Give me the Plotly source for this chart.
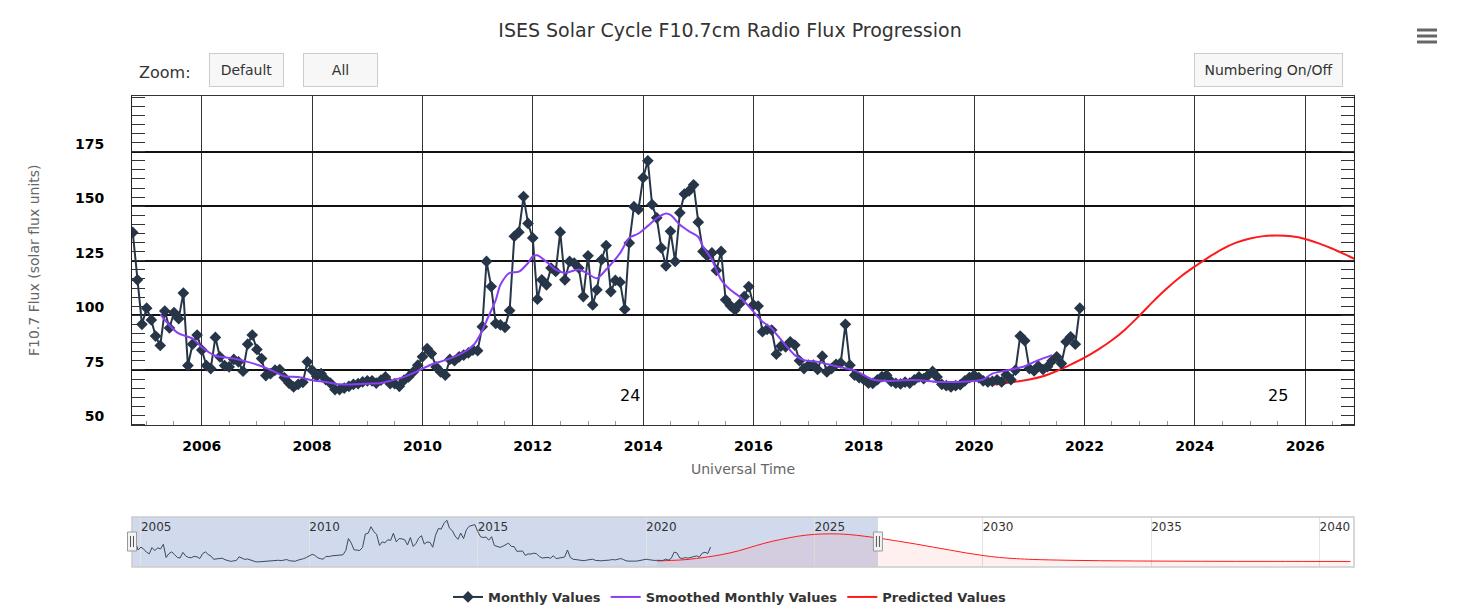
import plotly.graph_objects as go
import pandas as pd

# ---------------- data ----------------
title_text = "ISES Solar Cycle F10.7cm Radio Flux Progression"

monthly_start = "2004-10-01"
monthly_values = [
    138.0, 116.3, 95.9,
    103.3, 97.9, 90.5, 86.2, 102.0, 94.2, 101.3, 98.5, 110.2, 77.0, 86.8, 91.0,
    84.1, 77.0, 75.6, 89.9, 81.0, 77.0, 76.4, 79.8, 78.7, 74.4, 86.8, 91.0,
    84.4, 80.2, 72.4, 73.3, 74.9, 75.2, 71.5, 69.0, 67.2, 68.4, 69.3, 78.7,
    74.9, 72.1, 73.3, 70.6, 69.0, 66.0, 66.0, 66.7, 67.5, 68.4, 68.7, 69.5,
    70.0, 70.0, 69.0, 70.3, 71.8, 68.7, 68.7, 67.5, 70.3, 71.8, 74.1, 77.2,
    81.0, 84.8, 82.5, 76.4, 74.1, 72.6, 79.8, 79.2, 81.0, 81.8, 82.8, 84.1,
    83.8, 94.8, 124.7, 113.2, 96.3, 95.6, 94.5, 102.2, 136.2, 138.1, 154.4, 142.1,
    135.5, 107.4, 116.3, 114.0, 121.7, 120.1, 138.1, 116.3, 124.7, 124.0, 121.7, 108.6,
    127.3, 104.8, 111.7, 125.5, 132.0, 110.9, 116.0, 115.2, 102.8, 133.2, 149.8, 148.5,
    163.1, 170.8, 150.8, 144.7, 130.9, 122.7, 138.5, 124.7, 147.0, 155.6, 157.0, 159.8,
    142.7, 129.3, 127.3, 128.6, 120.6, 129.3, 107.1, 104.5, 102.5, 105.2, 108.6, 113.2,
    104.8, 104.3, 92.5, 93.6, 93.3, 82.2, 85.9, 85.6, 87.9, 86.4, 79.2, 75.6,
    77.2, 77.2, 75.2, 81.3, 74.1, 75.6, 77.6, 78.2, 95.9, 77.2, 72.6, 71.5,
    70.6, 68.9, 68.8, 70.5, 71.9, 72.6, 69.7, 68.9, 68.6, 69.4, 69.0, 70.4,
    71.8, 71.0, 72.5, 74.3, 71.8, 68.4, 67.8, 67.2, 67.8, 68.2, 70.0, 71.5,
    72.6, 71.5, 70.0, 69.5, 69.8, 70.5, 69.5, 72.8, 70.5, 74.9, 90.5, 88.4,
    75.6, 74.6, 76.7, 75.2, 76.5, 79.2, 81.0, 77.9, 87.9, 90.2, 86.8, 103.3,
]

smoothed_dates = [
    "2005-04-01", "2005-06-01", "2005-08-01", "2005-11-01", "2006-01-01", "2006-04-01",
    "2006-06-01", "2006-08-01", "2006-11-01", "2007-02-01", "2007-05-01", "2007-07-01",
    "2007-10-01", "2008-01-01", "2008-04-01", "2008-07-01", "2008-10-01", "2009-01-01",
    "2009-04-01", "2009-06-01", "2009-09-01", "2009-12-01", "2010-03-01", "2010-06-01",
    "2010-09-01", "2010-12-01", "2011-02-01", "2011-03-01", "2011-05-01", "2011-06-01",
    "2011-08-01", "2011-10-01", "2011-12-01", "2012-01-01", "2012-02-01", "2012-04-01",
    "2012-06-01", "2012-08-01", "2012-11-01", "2013-01-01", "2013-03-01", "2013-05-01",
    "2013-08-01", "2013-10-01", "2013-12-01", "2014-02-01", "2014-04-01", "2014-06-01",
    "2014-07-01", "2014-09-01", "2014-11-01", "2015-01-01", "2015-02-01", "2015-04-01",
    "2015-06-01", "2015-08-01", "2015-10-01", "2016-01-01", "2016-03-01", "2016-05-01",
    "2016-06-01", "2016-08-01", "2016-10-01", "2016-12-01", "2017-03-01", "2017-06-01",
    "2017-08-01", "2017-11-01", "2018-01-01", "2018-03-01", "2018-06-01", "2018-10-01",
    "2019-01-01", "2019-05-01", "2019-09-01", "2020-01-01", "2020-03-01", "2020-05-01",
    "2020-09-01", "2020-12-01", "2021-03-01", "2021-06-01",
]
smoothed_values = [
    100.6, 95.5, 91.7, 89.4, 85.4, 81.5,
    80.8, 80.2, 78.7, 76.7, 74.1, 72.1,
    71.8, 70.3, 69.5, 68.4, 68.4, 68.7,
    69.0, 70.0, 71.8, 74.5, 77.5, 79.5,
    82.0, 86.0, 93.0, 97.5, 107.0, 114.0,
    119.5, 120.0, 124.0, 127.0, 127.5, 124.5,
    121.0, 119.5, 121.0, 119.0, 117.0, 121.0,
    128.5, 135.5, 137.5, 141.0, 144.5, 146.7,
    146.0, 141.5, 138.5, 135.9, 131.6, 125.5,
    116.3, 111.7, 108.6, 101.7, 97.1, 94.1,
    91.4, 86.4, 81.8, 79.5, 78.7, 77.2,
    76.2, 74.8, 72.6, 70.6, 69.9, 70.3,
    70.3, 69.5, 69.5, 69.9, 70.6, 73.3,
    75.2, 76.7, 79.5, 81.8,
]

predicted_dates = [
    "2020-05-01", "2020-07-01", "2020-10-01", "2021-01-01", "2021-04-01", "2021-07-01",
    "2021-10-01", "2022-01-01", "2022-04-01", "2022-07-01", "2022-10-01", "2023-01-01",
    "2023-04-01", "2023-07-01", "2023-10-01", "2024-01-01", "2024-04-01", "2024-07-01",
    "2024-10-01", "2025-01-01", "2025-04-01", "2025-07-01", "2025-10-01", "2026-01-01",
    "2026-04-01", "2026-07-01", "2026-10-01", "2027-01-01", "2027-07-01", "2028-01-01",
    "2028-07-01", "2029-01-01", "2029-07-01", "2030-01-01", "2030-07-01", "2031-01-01",
    "2031-07-01", "2032-07-01", "2033-07-01", "2034-07-01", "2035-07-01", "2036-07-01",
    "2037-07-01", "2038-07-01", "2039-07-01", "2040-12-01",
]
predicted_values = [
    68.3, 68.7, 69.6, 70.6, 72.1, 74.5,
    77.4, 80.6, 84.3, 88.6, 93.8, 100.0,
    106.4, 112.4, 117.8, 122.4, 126.6, 130.4,
    133.3, 135.2, 136.3, 136.6, 136.2, 135.0,
    133.0, 130.5, 127.6, 124.6, 118.0, 111.0,
    103.5, 96.0, 88.5, 82.0, 77.0, 74.0,
    72.0, 70.0, 68.8, 68.2, 67.8, 67.5,
    67.3, 67.2, 67.1, 67.0,
]

cycle_labels = ["24", "25"]
cycle_label_dates = ["2013-10-05", "2025-07-05"]
cycle_label_level = 63.4

y_tick_values = [50, 75, 100, 125, 150, 175]
main_range = ["2004-09-26", "2026-11-20"]
nav_range = ["2004-09-26", "2041-01-08"]

monthly_dates = pd.date_range(monthly_start, periods=len(monthly_values), freq="MS")

C_MONTHLY = "#263648"
C_SMOOTH = "#8a3ff5"
C_PRED = "#ff1a1a"

fig = go.Figure()

# main chart
fig.add_trace(go.Scatter(
    x=predicted_dates, y=predicted_values, name="Predicted Values", mode="lines",
    line=dict(color=C_PRED, width=2, shape="spline", smoothing=1.0),
    legendrank=3, xaxis="x", yaxis="y"))
fig.add_trace(go.Scatter(
    x=monthly_dates, y=monthly_values, name="Monthly Values", mode="lines+markers",
    line=dict(color=C_MONTHLY, width=2),
    marker=dict(symbol="diamond", size=9, color=C_MONTHLY),
    legendrank=1, xaxis="x", yaxis="y"))
fig.add_trace(go.Scatter(
    x=smoothed_dates, y=smoothed_values, name="Smoothed Monthly Values", mode="lines",
    line=dict(color=C_SMOOTH, width=2, shape="spline", smoothing=0.8),
    legendrank=2, xaxis="x", yaxis="y"))

# navigator
fig.add_trace(go.Scatter(
    x=predicted_dates, y=predicted_values, mode="lines", showlegend=False,
    line=dict(color=C_PRED, width=1, shape="spline", smoothing=1.0),
    fill="tozeroy", fillcolor="rgba(255,0,0,0.06)", xaxis="x2", yaxis="y2",
    hoverinfo="skip"))
fig.add_trace(go.Scatter(
    x=monthly_dates, y=monthly_values, mode="lines", showlegend=False,
    line=dict(color="#3a4a5c", width=1), xaxis="x2", yaxis="y2", hoverinfo="skip"))

for lab, d in zip(cycle_labels, cycle_label_dates):
    fig.add_annotation(x=d, y=cycle_label_level, xref="x", yref="y", text=lab,
                       showarrow=False, font=dict(size=16, color="#000"))

# ---------------- layout ----------------
# the page body adds an 8px offset; positions below are screen pixels
OFF = 8
W, H = 1460 - OFF, 614 - OFF
ML, MR, MT, MB = 132 - OFF, 106, 96 - OFF, 0
PW, PH = W - ML - MR, H - MT - MB


def px_x(sx):
    return (sx - OFF - ML) / PW


def px_y(sy):
    return (H - MB - (sy - OFF)) / PH


fig.update_layout(
    width=W, height=H,
    margin=dict(l=ML, r=MR, t=MT, b=MB, autoexpand=False),
    paper_bgcolor="white", plot_bgcolor="white",
    font=dict(family="DejaVu Sans", color="#333"),
    title=dict(text=title_text, x=(730 - OFF) / W, xref="container", xanchor="center",
               y=1 - (30 - OFF) / H, yref="container", yanchor="middle",
               font=dict(size=19, color="#333", family="DejaVu Sans")),
    showlegend=True,
    legend=dict(orientation="h", x=px_x(730), xanchor="center", y=px_y(597), yanchor="middle",
                font=dict(size=13, color="#333", family="DejaVu Sans", weight="bold"),
                bgcolor="rgba(0,0,0,0)", traceorder="normal"),
    xaxis=dict(domain=[0, 1], anchor="y", type="date", range=main_range,
               tick0="2006-01-01", dtick="M24", tickformat="%Y", ticks="",
               showgrid=True, gridcolor="#333", gridwidth=1.2,
               showline=True, linecolor="#333", linewidth=1, mirror=True,
               zeroline=False, ticklabelstandoff=9,
               tickfont=dict(family="DejaVu Sans", size=14, color="#000", weight="bold"),
               minor=dict(dtick="M6", tick0="2006-01-01", ticks="inside", ticklen=4,
                          tickcolor="#999", tickwidth=1, showgrid=False),
               title=dict(text="Universal Time", standoff=10,
                          font=dict(family="DejaVu Sans", size=14, color="#666"))),
    yaxis=dict(domain=[px_y(424.5), px_y(96)], anchor="x", range=[50, 200.5],
               tickmode="array", tickvals=y_tick_values, ticks="",
               showgrid=True, gridcolor="#111", gridwidth=1.5,
               showline=True, linecolor="#222", linewidth=1, mirror="ticks",
               zeroline=False, ticklabelshift=-8, ticklabelstandoff=24,
               tickfont=dict(family="DejaVu Sans", size=14, color="#000", weight="bold"),
               minor=dict(dtick=25 / 6, tick0=50, ticks="inside", ticklen=13,
                          tickcolor="#333", tickwidth=1, showgrid=False),
               title=dict(text="F10.7 Flux (solar flux units)", standoff=32,
                          font=dict(family="DejaVu Sans", size=14, color="#666"))),
    xaxis2=dict(domain=[0, 1], anchor="y2", type="date", range=nav_range,
                tick0="2005-01-01", dtick="M60", tickformat="%Y", side="top",
                ticks="", ticklabelposition="inside right", ticklabeloverflow="allow",
                showgrid=True, gridcolor="#e3e3e3", gridwidth=1, showline=False,
                zeroline=False, tickfont=dict(family="DejaVu Sans", size=12, color="#333")),
    yaxis2=dict(domain=[px_y(567), px_y(517)], anchor="x2", range=[53, 179], visible=False),
)

# navigator mask, outline and handles
sel_end = pd.Timestamp(main_range[1])
n0, n1 = pd.Timestamp(nav_range[0]), pd.Timestamp(nav_range[1])
frac_end = (sel_end - n0) / (n1 - n0)
frac_start = 0.0

fig.add_shape(type="rect", xref="x2", yref="y2 domain", x0=nav_range[0], x1=main_range[1],
              y0=0, y1=1, fillcolor="rgba(102,133,194,0.3)", line=dict(width=0), layer="below")
fig.add_shape(type="rect", xref="x2 domain", yref="y2 domain", x0=0, x1=1, y0=0, y1=1,
              line=dict(color="#cccccc", width=1.5))
for f in (frac_start, frac_end):
    fig.add_shape(type="rect", xref="paper", yref="paper",
                  x0=f - 4.5 / PW, x1=f + 4.5 / PW, y0=px_y(551), y1=px_y(532),
                  fillcolor="#f2f2f2", line=dict(color="#999999", width=1))
    for dx in (-1.5, 1.5):
        fig.add_shape(type="line", xref="paper", yref="paper",
                      x0=f + dx / PW, x1=f + dx / PW, y0=px_y(547), y1=px_y(536),
                      line=dict(color="#555", width=1))

# zoom label and buttons
fig.add_annotation(xref="paper", yref="paper", x=px_x(137), y=px_y(72), xanchor="left",
                   yanchor="middle", text="Zoom:", showarrow=False,
                   font=dict(size=16, color="#333"))
for txt, cx, w in (("Default", 246.5, 73), ("All", 340.5, 73), ("Numbering On/Off", 1268.5, 147)):
    fig.add_annotation(xref="paper", yref="paper", x=px_x(cx), y=px_y(70), xanchor="center",
                       yanchor="middle", text=txt, showarrow=False, width=w, height=32,
                       bgcolor="#f7f7f7", bordercolor="#cccccc", borderwidth=1, borderpad=0,
                       font=dict(size=14, color="#333"))

# hamburger icon
for yy in (30, 36, 42):
    fig.add_shape(type="line", xref="paper", yref="paper", x0=px_x(1417), x1=px_x(1437),
                  y0=px_y(yy), y1=px_y(yy), line=dict(color="#666", width=3))

fig.write_html("out.html", config={"displayModeBar": False})
